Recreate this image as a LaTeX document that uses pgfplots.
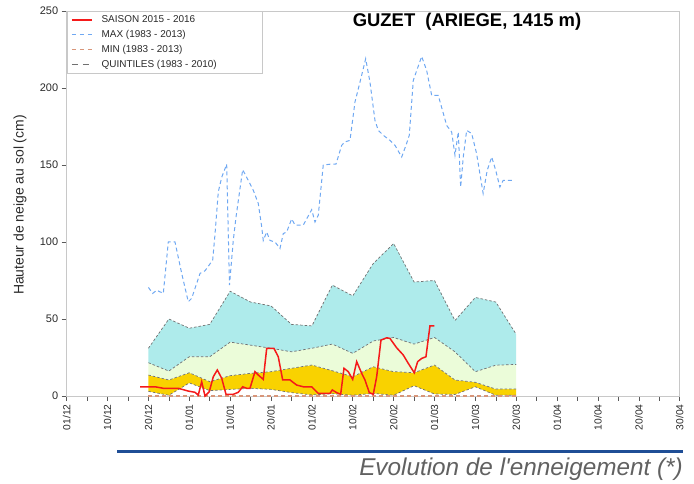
\documentclass[border=0pt]{standalone}
\usepackage{fontspec}
\setmainfont{Liberation Sans}
\usepackage{pgfplots}
\pgfplotsset{compat=1.18}
\usepgfplotslibrary{fillbetween}
\definecolor{qcyan}{HTML}{AEEBEB}
\definecolor{qgreen}{HTML}{EBFCD9}
\definecolor{qgold}{HTML}{F9D200}
\definecolor{qline}{HTML}{707070}
\definecolor{maxblue}{HTML}{6FA8F2}
\definecolor{minsal}{HTML}{D8967A}
\definecolor{saisred}{HTML}{F51A1A}
\definecolor{capblue}{HTML}{1F4E96}
\definecolor{framegray}{HTML}{C8C8C8}
\definecolor{txt}{HTML}{2A2A2A}

\pgfplotstableread{
x q1 q2 q3 q4
20 3 13.6 21.6 31
25 0.5 10.4 16.2 50
30 8.5 15.1 25.5 44
35 3.5 9.3 25.5 46.5
40 4.3 13.2 35 68
45 5 14.7 33 61
50 4.3 15.8 31 58.5
55 2.2 18 28.7 46.5
60 0.7 20.1 31 45.5
65 1.5 16.4 33.7 72
70 0.5 12.5 27.7 65
75 1.7 19 35.7 86
80 0.5 15.8 38 99
85 6.7 15.1 33.7 74
90 1.3 20.1 38 75
95 1 10.4 28.7 49
100 6 8.9 15.8 64
105 0.5 4.5 20 61
110 0.5 4.5 20.5 40
}\quint

\begin{document}
\begin{tikzpicture}
\path (0bp,0bp) rectangle (694bp,484bp);
\begin{axis}[
  at={(66.7bp,88bp)}, anchor=south west,
  scale only axis, width=613bp, height=385bp,
  xmin=0, xmax=150, ymin=0, ymax=250,
  clip=false,
  xtick={0,10,...,150},
  xticklabels={01/12,10/12,20/12,01/01,10/01,20/01,01/02,10/02,20/02,01/03,10/03,20/03,01/04,10/04,20/04,30/04},
  minor xtick={5,15,...,145},
  ytick={0,50,...,250},
  tick pos=left, tick align=outside,
  major tick length=5bp, minor tick length=5bp,
  tick style={black!65, line width=0.6bp},
  axis line style={framegray, line width=0.8bp},
  x tick label style={rotate=90, anchor=east, font=\fontsize{10.3}{12}\selectfont, text=txt},
  y tick label style={font=\fontsize{11}{13}\selectfont, text=txt},
  /pgf/number format/assume math mode=true,
  ylabel={Hauteur de neige au sol (cm)},
  ylabel style={at={(axis description cs:-0.0762,0.496)}, anchor=center, font=\fontsize{14}{16}\selectfont, text=txt},
  title={GUZET\ \ (ARIEGE, 1415 m)},
  title style={at={(axis description cs:0.653,0.956)}, anchor=center, yshift=0pt, font=\bfseries\fontsize{18.5}{21}\selectfont, text=black},
  legend image code/.code={\draw[#1] (0bp,0bp) -- (20bp,0bp);},
  legend style={at={(0,1)}, anchor=north west, draw=framegray, line width=0.8bp,
    font=\fontsize{10}{12}\selectfont, text=txt, row sep=2.1bp,
    inner xsep=4bp, inner ysep=2.5bp},
  legend cell align=left,
]
% quintile boundaries (paths)
\addplot[name path=q1, draw=none, forget plot] table[x=x,y=q1] {\quint};
\addplot[name path=q2, draw=none, forget plot] table[x=x,y=q2] {\quint};
\addplot[name path=q3, draw=none, forget plot] table[x=x,y=q3] {\quint};
\addplot[name path=q4, draw=none, forget plot] table[x=x,y=q4] {\quint};
\addplot[qgold, draw=none, forget plot] fill between[of=q2 and q1];
\addplot[qgreen, draw=none, forget plot] fill between[of=q3 and q2];
\addplot[qcyan, draw=none, forget plot] fill between[of=q4 and q3];
% dashed quintile lines
\addplot[qline, line width=0.7bp, dash pattern=on 2.5bp off 2bp, forget plot] table[x=x,y=q1] {\quint};
\addplot[qline, line width=0.7bp, dash pattern=on 2.5bp off 2bp, forget plot] table[x=x,y=q2] {\quint};
\addplot[qline, line width=0.7bp, dash pattern=on 2.5bp off 2bp, forget plot] table[x=x,y=q3] {\quint};
\addplot[qline, line width=0.7bp, dash pattern=on 2.5bp off 2bp, forget plot] table[x=x,y=q4] {\quint};
% MIN
\addplot[minsal, line width=1.3bp, dash pattern=on 4bp off 3bp, forget plot] coordinates {(20,0) (110,0)};
% MAX
\addplot[maxblue, line width=1bp, dash pattern=on 4bp off 3bp, forget plot] coordinates {
(20.0,70.5) (21.04,66.6) (22.02,68.7) (23.64,66.6) (24.86,100) (26.5,100) (28.14,79.6)
(29.75,61.2) (30.58,63.4) (32.62,79.6) (33.84,81.3) (35.72,88.2) (36.29,105) (37.09,132.5)
(37.93,142) (39.15,150.5) (39.83,72) (40.76,101) (41.42,116) (43.06,147) (44.43,140)
(45.66,133.6) (46.88,125) (47.71,110) (48.10,101) (48.94,106.5) (49.74,101) (50.97,100)
(52.19,95.8) (53.0,105.5) (53.83,106.5) (55.05,115) (55.86,111) (57.89,111) (59.95,121)
(60.75,113) (61.56,117.4) (62.78,150) (64.42,150.5) (65.89,150.5) (67.29,162.8) (68.1,165)
(69.32,166) (70.54,190.9) (71.76,203.8) (73.16,219) (74.21,203.8) (75.43,179) (76.24,172.5)
(77.47,169.3) (79.1,166) (80.32,162.8) (81.97,155.2) (83.02,162.8) (83.83,169.3) (84.81,205)
(86.86,220.5) (88.08,211.4) (89.31,195.2) (90.92,195.2) (92.98,175.7) (94.2,171.4) (95.01,156.3)
(95.82,171.4) (96.4,135.7) (97.04,155.2) (97.87,172.5) (99.1,170.4) (100.3,157.4) (101.9,131.5)
(102.9,146.6) (104.0,155.2) (104.97,146.6) (106.0,135.7) (106.8,140) (109.3,140)
};
% SAISON 2015-2016
\addplot[saisred, line width=1.5bp, forget plot] coordinates {
(17.95,6) (21.6,6) (23.64,5) (27.3,5) (29.75,3.2) (31.39,2.4) (32.2,0.6) (33.03,9.3)
(33.84,0) (34.89,2.8) (35.87,12.5) (36.85,16.9) (37.93,11.5) (38.98,1.1) (40.76,1.1)
(41.99,2.4) (43.06,6) (44.04,5) (44.85,5) (46.07,15.8) (46.88,13.6) (48.1,10.8) (48.94,30.9)
(50.72,30.9) (51.77,25.5) (52.85,10.4) (54.64,10.4) (56.28,7.1) (57.89,6) (59.95,6)
(61.56,1.7) (64.42,1.7) (64.99,3.9) (66.06,2.2) (67.04,1.1) (67.85,18) (68.9,15.8)
(69.98,10.8) (70.96,22.3) (72.18,14.7) (72.99,10.4) (74.04,2.2) (75.02,1.1) (75.85,12.5)
(76.9,36.3) (78.3,37.8) (79.1,37.4) (80.74,31.3) (82.36,26.6) (83.58,21.2) (85.05,15.1)
(85.88,22.3) (86.86,24.4) (87.91,25.5) (88.89,45.6) (89.94,45.6)
};
\addlegendimage{draw=saisred, line width=1.5bp}
\addlegendentry{\makebox[162bp][l]{\hspace{7bp}SAISON 2015 - 2016}}
\addlegendimage{draw=maxblue, line width=1.1bp, dash pattern=on 4.5bp off 3.5bp}
\addlegendentry{\makebox[162bp][l]{\hspace{7bp}MAX (1983 - 2013)}}
\addlegendimage{draw=minsal, line width=1.1bp, dash pattern=on 4.5bp off 3.5bp}
\addlegendentry{\makebox[162bp][l]{\hspace{7bp}MIN (1983 - 2013)}}
\addlegendimage{draw=qline, line width=1.1bp, dash pattern=on 6bp off 5bp}
\addlegendentry{\makebox[162bp][l]{\hspace{7bp}QUINTILES (1983 - 2010)}}
\end{axis}
\draw[capblue, line width=3bp] (117bp,32bp) -- (683bp,32bp);
\node[anchor=east, inner sep=0pt, font=\itshape\fontsize{24.4}{28}\selectfont, text=black!62] at (683bp,15bp) {Evolution de l\textquotesingle enneigement (*)};
\end{tikzpicture}
\end{document}
